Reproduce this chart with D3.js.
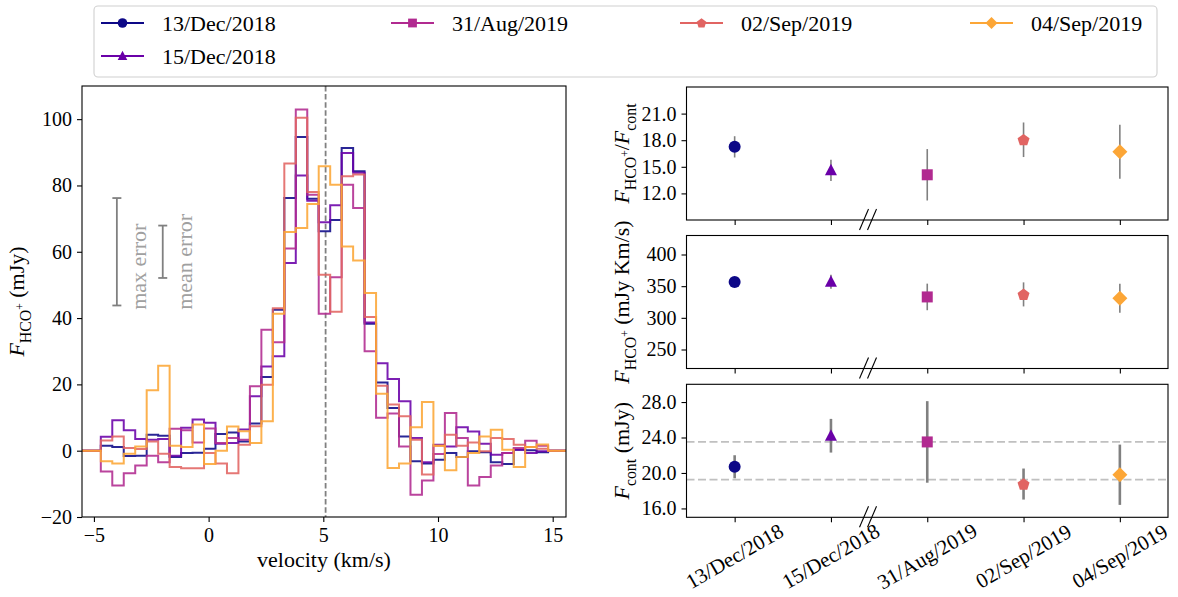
<!DOCTYPE html>
<html>
<head>
<meta charset="utf-8">
<script src="https://cdn.jsdelivr.net/npm/d3@7"></script>
<style>
  body { margin: 0; background: #fff; }
  svg text { font-family: "Liberation Serif", "DejaVu Serif", serif; }
</style>
</head>
<body>
<div id="content"></div>
<script>
// ---- data ----
const dates = ["13/Dec/2018", "15/Dec/2018", "31/Aug/2019", "02/Sep/2019", "04/Sep/2019"];
const colors = ["#0d0887", "#6a00a8", "#b12a90", "#e16462", "#fca636"];
const shapes = ["circle", "triangle", "square", "pentagon", "diamond"];

// channel centres (km/s), 0.5 km/s channels
const velocity = [-4.45, -3.95, -3.45, -2.95, -2.45, -1.95, -1.45, -0.95, -0.45, 0.05,
  0.55, 1.05, 1.55, 2.05, 2.55, 3.05, 3.55, 4.05, 4.55, 5.05,
  5.55, 6.05, 6.55, 7.05, 7.55, 8.05, 8.55, 9.05, 9.55, 10.05,
  10.55, 11.05, 11.55, 12.05, 12.55, 13.05, 13.55, 14.05, 14.55];
const channelWidth = 0.5;

const flux13Dec = [1.5, 1.1, -1.6, -1.5, 4.8, 4.5, -1.9, -0.7, -0.6, 0.6,
  5.0, 5.5, 2.8, 8.2, 22.2, 42.5, 76.2, 94.6, 76.0, 66.2,
  69.6, 91.3, 84.3, 38.3, 20.6, 12.9, 4.3, -3.2, -3.9, -2.7,
  -0.7, -1.9, -0.2, -0.5, -3.5, -4.0, 0.3, 0.1, -0.5];
const flux15Dec = [4.2, 9.2, 6.2, 3.5, 3.3, 3.5, -1.5, 6.9, 9.4, 8.4,
  2.1, 2.3, 6.4, 16.4, 25.4, 28.5, 56.6, 83.0, 75.4, 68.9,
  74.0, 89.8, 83.8, 38.7, 26.4, 21.6, 14.9, 3.8, -3.5, 1.8,
  1.3, 7.1, 5.8, 2.1, -1.2, -0.7, 0.3, -0.7, -0.2];
const flux31Aug = [-6.3, -10.5, -6.8, -4.5, -1.5, -3.5, 6.6, 6.2, 2.5, 6.7,
  2.3, 3.8, 3.3, 19.4, 36.5, 32.7, 61.0, 102.9, 77.2, 41.3,
  52.3, 80.2, 73.2, 30.0, 9.9, 11.2, 1.3, -13.3, -9.0, -1.0,
  11.4, 3.8, -10.5, -7.9, -4.5, -0.7, 0.8, 3.0, 1.5];
const flux02Sep = [3.1, 4.3, 0.8, 0.5, 2.8, -0.9, -4.9, -5.3, -5.3, -0.7,
  -3.9, -6.8, 1.8, 7.4, 19.9, 43.0, 86.6, 100.4, 78.0, 53.1,
  41.9, 82.8, 83.3, 40.3, 19.6, 13.9, 10.4, 3.3, -7.2, 1.5,
  4.8, 1.5, 2.5, -0.2, 3.8, 3.5, 1.8, 1.1, 0.6];
const flux04Sep = [-3.2, -3.9, -0.9, 1.3, 18.2, 25.6, 1.5, 1.1, 7.9, -4.0,
  0.0, 7.3, 5.9, 2.3, 8.9, 41.3, 66.0, 67.2, 74.4, 85.8,
  80.2, 61.6, 57.4, 47.6, 17.2, -5.2, -3.9, 7.1, 14.7, 1.5,
  -5.9, -1.9, -0.7, 4.3, 6.3, 0.3, -4.9, 1.1, 1.9];
const spectra = [flux13Dec, flux15Dec, flux31Aug, flux02Sep, flux04Sep];

const systemicVelocity = 5.1;
const errorBarCentre = 60;
const maxError = 16.2;
const meanError = 7.9;

const ratio = [17.25, 14.6, 14.1, 18.05, 16.7];
const ratioErr = [1.2, 1.2, 2.9, 1.95, 3.05];
const lineFlux = [356.5, 357, 333, 337, 331];
const lineFluxErr = [6, 11, 21, 19, 23];
const contFlux = [20.7, 24.2, 23.5, 18.75, 19.8];
const contFluxErr = [1.3, 1.9, 4.6, 1.75, 3.4];
const contLevels = [23.5, 19.25];

const velTicks = [-5, 0, 5, 10, 15];
const fluxTicks = [-20, 0, 20, 40, 60, 80, 100];
const ratioTicks = [12, 15, 18, 21];
const lineFluxTicks = [250, 300, 350, 400];
const contTicks = [16, 20, 24, 28];

// ---- layout ----
const W = 1178, H = 597;
const fs = 20;   // tick numbers
const lfs = 22;  // words (labels, legend)
const minus = (d) => (d < 0 ? "\u2212" + Math.abs(d) : "" + d);

const svg = d3
  .select("#content")
  .append("svg")
  .attr("width", W)
  .attr("height", H);

// rich label text: italic F, subscripts, superscripts
function richText(sel, parts, size) {
  let shift = 0;
  parts.forEach(([t, kind]) => {
    let target = 0;
    if (kind === "sub") target = 0.3 * size;
    if (kind === "subsup") target = 0.02 * size;
    const ts = sel.append("tspan").text(t).attr("dy", target - shift);
    shift = target;
    if (kind === "it") ts.attr("font-style", "italic");
    if (kind === "sub") ts.attr("font-size", size * 0.72);
    if (kind === "subsup") ts.attr("font-size", size * 0.52);
  });
  if (shift !== 0) sel.append("tspan").text("").attr("dy", -shift);
}

function styleAxis(g) {
  g.select(".domain").remove();
  g.selectAll("line").attr("stroke", "#000").attr("stroke-width", 1.1);
  g.selectAll("text").attr("font-size", fs).attr("fill", "#000")
    .attr("font-family", '"Liberation Serif", serif');
}

function markerPath(shape, s) {
  const poly = (pts) => "M" + pts.map((p) => p.join(",")).join("L") + "Z";
  if (shape === "circle") return d3.symbol(d3.symbolCircle, Math.PI * 6 * 6 * s * s)();
  if (shape === "triangle") return poly([[0, -6.5 * s], [6 * s, 5 * s], [-6 * s, 5 * s]]);
  if (shape === "square") return poly([[-5.5 * s, -5.5 * s], [5.5 * s, -5.5 * s], [5.5 * s, 5.5 * s], [-5.5 * s, 5.5 * s]]);
  if (shape === "pentagon") {
    const pts = d3.range(5).map((k) => {
      const a = (-90 + 72 * k) * Math.PI / 180;
      return [6.3 * s * Math.cos(a), 6.3 * s * Math.sin(a) + 0.5 * s];
    });
    return poly(pts);
  }
  return poly([[0, -7.5 * s], [7.5 * s, 0], [0, 7.5 * s], [-7.5 * s, 0]]);
}

// ---- left panel: spectra ----
const spec = { left: 82, top: 86, width: 484, height: 431 };
const x = d3.scaleLinear().domain([-5.52, 15.58]).range([0, spec.width]);
const y = d3.scaleLinear().domain([-20, 110]).range([spec.height, 0]);

const g = svg.append("g").attr("transform", `translate(${spec.left},${spec.top})`);

g.append("clipPath").attr("id", "specClip")
  .append("rect").attr("width", spec.width).attr("height", spec.height);

const line = d3.line().x((d) => x(d[0])).y((d) => y(d[1])).curve(d3.curveStep);

g.append("line")
  .attr("x1", x(systemicVelocity)).attr("x2", x(systemicVelocity))
  .attr("y1", 0).attr("y2", spec.height)
  .attr("stroke", "#808080").attr("stroke-width", 1.8)
  .attr("stroke-dasharray", "5.5,2.6");

spectra.forEach((flux, i) => {
  const n = velocity.length;
  const pts = [[x.domain()[0], 0], [velocity[0] - channelWidth, 0]]
    .concat(velocity.map((v, j) => [v, flux[j]]))
    .concat([[velocity[n - 1] + channelWidth, 0], [x.domain()[1], 0]]);
  g.append("path")
    .attr("clip-path", "url(#specClip)")
    .attr("d", line(pts))
    .attr("fill", "none")
    .attr("stroke", colors[i])
    .attr("stroke-width", 2)
    .attr("stroke-opacity", 0.88);
});

// error annotations
[[-4.0, maxError, "max error"], [-2.0, meanError, "mean error"]].forEach(([v, e, label]) => {
  const cx = x(v);
  g.append("line").attr("x1", cx).attr("x2", cx)
    .attr("y1", y(errorBarCentre - e)).attr("y2", y(errorBarCentre + e))
    .attr("stroke", "#808080").attr("stroke-width", 1.8);
  [errorBarCentre - e, errorBarCentre + e].forEach((cy) => {
    g.append("line").attr("x1", cx - 4.5).attr("x2", cx + 4.5)
      .attr("y1", y(cy)).attr("y2", y(cy))
      .attr("stroke", "#808080").attr("stroke-width", 1.8);
  });
  g.append("text")
    .attr("transform", `translate(${x(v + 1.27)},${y(42.5)}) rotate(-90)`)
    .attr("font-size", lfs)
    .attr("fill", "#a0a0a0")
    .text(label);
});

g.append("rect").attr("width", spec.width).attr("height", spec.height)
  .attr("fill", "none").attr("stroke", "#000").attr("stroke-width", 1.1);

g.append("g").attr("transform", `translate(0,${spec.height})`)
  .call(d3.axisBottom(x).tickValues(velTicks).tickFormat(minus).tickSize(5).tickPadding(5))
  .call(styleAxis)
  .selectAll("text").attr("dy", "0.75em");

g.append("g")
  .call(d3.axisLeft(y).tickValues(fluxTicks).tickFormat(minus).tickSize(5).tickPadding(5))
  .call(styleAxis);

svg.append("text")
  .attr("x", spec.left + spec.width / 2).attr("y", 567)
  .attr("text-anchor", "middle").attr("font-size", lfs)
  .text("velocity (km/s)");

richText(
  svg.append("text")
    .attr("transform", `translate(24,${spec.top + spec.height / 2}) rotate(-90)`)
    .attr("text-anchor", "middle").attr("font-size", lfs),
  [["F", "it"], ["HCO", "sub"], ["+", "subsup"], [" (mJy)", "rm"]], lfs);

// ---- right panels ----
const panel = { left: 686.5, width: 481.5, height: 133 };
const px = d3.scalePoint().domain(dates).range([0, panel.width]).padding(0.5);

const panels = [
  { top: 87, domain: [9, 24], ticks: ratioTicks, fmt: d3.format(".1f"), values: ratio, errs: ratioErr, ew: 1.6,
    label: [["F", "it"], ["HCO", "sub"], ["+", "subsup"], ["/", "rm"], ["F", "it"], ["cont", "sub"]] },
  { top: 235.5, domain: [220, 430], ticks: lineFluxTicks, fmt: d3.format("d"), values: lineFlux, errs: lineFluxErr, ew: 1.6,
    label: [["F", "it"], ["HCO", "sub"], ["+", "subsup"], [" (mJy Km/s)", "rm"]] },
  { top: 384.3, domain: [15, 30], ticks: contTicks, fmt: d3.format(".1f"), values: contFlux, errs: contFluxErr, ew: 2.6,
    label: [["F", "it"], ["cont", "sub"], [" (mJy)", "rm"]], levels: contLevels, xlabels: true },
];

panels.forEach((p) => {
  const py = d3.scaleLinear().domain(p.domain).range([panel.height, 0]);
  const pg = svg.append("g").attr("transform", `translate(${panel.left},${p.top})`);

  if (p.levels) {
    p.levels.forEach((lv) => {
      pg.append("line").attr("x1", 0).attr("x2", panel.width)
        .attr("y1", py(lv)).attr("y2", py(lv))
        .attr("stroke", "#c0c0c0").attr("stroke-width", 1.8)
        .attr("stroke-dasharray", "8,3.5");
    });
  }

  dates.forEach((dt, i) => {
    pg.append("line")
      .attr("x1", px(dt)).attr("x2", px(dt))
      .attr("y1", py(p.values[i] - p.errs[i])).attr("y2", py(p.values[i] + p.errs[i]))
      .attr("stroke", "#808080").attr("stroke-width", p.ew);
    pg.append("path")
      .attr("transform", `translate(${px(dt)},${py(p.values[i])})`)
      .attr("d", markerPath(shapes[i], 1))
      .attr("fill", colors[i]);
  });

  pg.append("rect").attr("width", panel.width).attr("height", panel.height)
    .attr("fill", "none").attr("stroke", "#000").attr("stroke-width", 1.1);

  pg.append("g").attr("transform", `translate(0,${panel.height})`)
    .call(d3.axisBottom(px).tickSize(5).tickFormat(""))
    .call(styleAxis);

  pg.append("g")
    .call(d3.axisLeft(py).tickValues(p.ticks).tickFormat(p.fmt).tickSize(5).tickPadding(5))
    .call(styleAxis);

  // axis break mark "//"
  const bx = px(dates[1]) + 0.385 * px.step();
  [-4, 4].forEach((off) => {
    pg.append("line")
      .attr("x1", bx + off - 4.5).attr("y1", panel.height + 10)
      .attr("x2", bx + off + 4.5).attr("y2", panel.height - 11)
      .attr("stroke", "#000").attr("stroke-width", 1.1);
  });

  if (p.xlabels) {
    dates.forEach((dt) => {
      pg.append("text")
        .attr("transform", `translate(${px(dt)},${panel.height + 39}) rotate(-30)`)
        .attr("text-anchor", "middle")
        .attr("dominant-baseline", "central")
        .attr("font-size", 21)
        .text(dt);
    });
  }

  richText(
    svg.append("text")
      .attr("transform", `translate(629,${p.top + panel.height / 2}) rotate(-90)`)
      .attr("text-anchor", "middle").attr("font-size", lfs),
    p.label, lfs);
});

// ---- legend ----
const legend = svg.append("g");
legend.append("rect")
  .attr("x", 94).attr("y", 6).attr("width", 1063).attr("height", 71)
  .attr("rx", 4).attr("fill", "#fff").attr("stroke", "#d0d0d0").attr("stroke-width", 1.1);

const legendCols = [101, 391, 680, 970];
const legendSlots = [[0, 0], [0, 1], [1, 0], [2, 0], [3, 0]];
dates.forEach((dt, i) => {
  const [c, r] = legendSlots[i];
  const lx = legendCols[c];
  const ly = 23 + r * 33;
  const item = legend.append("g").attr("transform", `translate(${lx},${ly})`);
  item.append("line").attr("x1", 0).attr("x2", 43).attr("y1", 0).attr("y2", 0)
    .attr("stroke", colors[i]).attr("stroke-width", 2);
  item.append("path").attr("transform", "translate(21.5,0)")
    .attr("d", markerPath(shapes[i], 0.8)).attr("fill", colors[i]);
  item.append("text").attr("x", 61).attr("y", 7.5).attr("font-size", lfs).text(dt);
});
</script>
</body>
</html>
